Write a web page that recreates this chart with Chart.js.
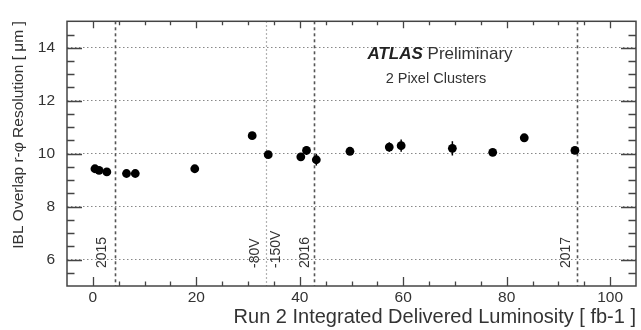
<!DOCTYPE html>
<html><head><meta charset="utf-8">
<script src="https://cdn.jsdelivr.net/npm/chart.js@4/dist/chart.umd.min.js"></script>
<style>html,body{margin:0;padding:0;background:#fff;}canvas{display:block;}</style>
</head><body>
<canvas id="c" width="641" height="330"></canvas>
<script>
const lumi = [0.4, 1.2, 2.7, 6.5, 8.2, 19.7, 30.8, 33.9, 40.2, 41.3, 43.2, 49.7, 57.3, 59.6, 69.5, 77.3, 83.4, 93.2];
const resolution = [9.43, 9.37, 9.31, 9.25, 9.25, 9.43, 10.68, 9.96, 9.88, 10.12, 9.77, 10.09, 10.25, 10.30, 10.20, 10.05, 10.60, 10.12];
const resErr = [0.05, 0.05, 0.05, 0.05, 0.05, 0.05, 0.06, 0.08, 0.08, 0.17, 0.22, 0.1, 0.18, 0.23, 0.27, 0.08, 0.1, 0.1];
const xTicks = [0, 20, 40, 60, 80, 100];
const yTicks = [6, 8, 10, 12, 14];
const markerLines = [4.2, 33.4, 42.7, 93.5];
const markerLabels = [["2015"], ["-80V", "-150V"], ["2016"], ["2017"]];

const FONT = '"Liberation Sans", Arial, Helvetica, sans-serif';
const TXT = '#333';

const rootStyle = {
  id: 'rootStyle',
  beforeDatasetsDraw(chart) {
    const {ctx, chartArea: a, scales: {x, y}} = chart;
    ctx.save();
    markerLines.forEach((v, i) => {
      const px = Math.round(x.getPixelForValue(v)) + 0.5;
      ctx.beginPath();
      if (i === 1) { ctx.strokeStyle = '#999'; ctx.lineWidth = 1.2; ctx.setLineDash([1.5, 2.5]); }
      else { ctx.strokeStyle = '#555'; ctx.lineWidth = 1.6; ctx.setLineDash([3, 3]); }
      ctx.moveTo(px, a.top); ctx.lineTo(px, a.bottom); ctx.stroke();
    });
    ctx.setLineDash([]);
    ctx.strokeStyle = '#000'; ctx.lineWidth = 1.5;
    lumi.forEach((v, i) => {
      const px = x.getPixelForValue(v);
      ctx.beginPath();
      ctx.moveTo(px, y.getPixelForValue(resolution[i] - resErr[i]));
      ctx.lineTo(px, y.getPixelForValue(resolution[i] + resErr[i]));
      ctx.stroke();
    });
    ctx.restore();
  },
  afterDraw(chart) {
    const {ctx, chartArea: a, scales: {x, y}} = chart;
    ctx.save();
    ctx.strokeStyle = '#444'; ctx.lineWidth = 1.5;
    ctx.strokeRect(a.left, a.top, a.right - a.left, a.bottom - a.top);
    ctx.lineWidth = 1.3;
    for (let v = -5; v <= 105; v += 5) {
      const px = Math.round(x.getPixelForValue(v)) + 0.5;
      if (px <= a.left + 1 || px >= a.right - 1) continue;
      const major = v % 20 === 0;
      const lb = major ? 9 : 4.5, lt = major ? 7 : 4;
      ctx.beginPath();
      ctx.moveTo(px, a.bottom); ctx.lineTo(px, a.bottom - lb);
      ctx.moveTo(px, a.top); ctx.lineTo(px, a.top + lt);
      ctx.stroke();
    }
    for (let v = 5; v <= 15.001; v += 0.5) {
      const py = Math.round(y.getPixelForValue(v)) + 0.5;
      if (py <= a.top + 1 || py >= a.bottom - 1) continue;
      const major = Math.abs(v % 2) < 1e-6;
      const l = major ? 15 : 7.5;
      ctx.beginPath();
      ctx.moveTo(a.left, py); ctx.lineTo(a.left + l, py);
      ctx.moveTo(a.right, py); ctx.lineTo(a.right - l, py);
      ctx.stroke();
    }
    ctx.fillStyle = TXT;
    ctx.font = '14px ' + FONT;
    ctx.textBaseline = 'middle';
    ctx.textAlign = 'left';
    const offs = [[-12], [-10, 11], [-9], [-10]];
    markerLabels.forEach((labs, i) => {
      const px = x.getPixelForValue(markerLines[i]);
      labs.forEach((t, j) => {
        ctx.save();
        ctx.translate(px + offs[i][j], a.bottom - 18);
        ctx.rotate(-Math.PI / 2);
        ctx.fillText(t, 0, 0);
        ctx.restore();
      });
    });
    ctx.textBaseline = 'alphabetic';
    ctx.fillStyle = '#222';
    ctx.font = 'italic bold 17px ' + FONT;
    const w1 = ctx.measureText('ATLAS').width;
    ctx.font = '17px ' + FONT;
    const w2 = ctx.measureText(' Preliminary').width;
    const sx = 440 - (w1 + w2) / 2;
    ctx.font = 'italic bold 17px ' + FONT;
    ctx.fillText('ATLAS', sx, 59);
    ctx.font = '17px ' + FONT;
    ctx.fillStyle = TXT;
    ctx.fillText(' Preliminary', sx + w1, 59);
    ctx.font = '14.5px ' + FONT;
    ctx.textAlign = 'center';
    ctx.fillText('2 Pixel Clusters', 436, 83);
    ctx.restore();
  }
};

new Chart(document.getElementById('c'), {
  type: 'scatter',
  data: {
    datasets: [{
      data: lumi.map((v, i) => ({x: v, y: resolution[i]})),
      backgroundColor: '#000', borderColor: '#000',
      pointRadius: 4.4, pointHoverRadius: 4.4, borderWidth: 0
    }]
  },
  plugins: [rootStyle],
  options: {
    responsive: false, devicePixelRatio: 1, animation: false,
    layout: {padding: {top: 6, right: 5, left: 0, bottom: 0}},
    plugins: {legend: {display: false}, tooltip: {enabled: false}},
    scales: {
      x: {
        type: 'linear', min: -5, max: 105,
        afterBuildTicks: s => { s.ticks = xTicks.map(v => ({value: v})); },
        afterFit: s => { s.height = 44; },
        grid: {display: false, drawTicks: false},
        border: {display: false},
        ticks: {color: TXT, font: {family: FONT, size: 15.5}, padding: 2, maxRotation: 0, autoSkip: false},
        title: {display: true, align: 'end', text: 'Run 2 Integrated Delivered Luminosity [ fb-1 ]',
                color: TXT, font: {family: FONT, size: 20}, padding: {top: 0, bottom: 1}}
      },
      y: {
        type: 'linear', min: 5, max: 15,
        afterBuildTicks: s => { s.ticks = yTicks.map(v => ({value: v})); },
        afterFit: s => { s.width = 67; },
        grid: {display: true, drawTicks: false, color: '#888', lineWidth: 1},
        border: {display: false, dash: [1.5, 2.5]},
        ticks: {color: TXT, font: {family: FONT, size: 15.5}, padding: 12, autoSkip: false},
        title: {display: true, align: 'end', text: 'IBL Overlap r-φ Resolution [ μm ]',
                color: TXT, font: {family: FONT, size: 15.5}, padding: {top: 9, bottom: 0}}
      }
    }
  }
});
</script>
</body></html>
